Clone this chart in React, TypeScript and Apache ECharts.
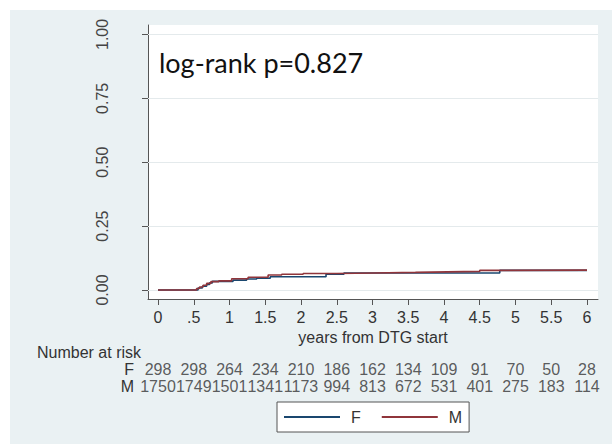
import React, { useEffect, useRef } from "react";
import * as echarts from "echarts";

// ---- data ----
const xTickValues = [0, 0.5, 1, 1.5, 2, 2.5, 3, 3.5, 4, 4.5, 5, 5.5, 6];
const xTickLabels = ["0", ".5", "1", "1.5", "2", "2.5", "3", "3.5", "4", "4.5", "5", "5.5", "6"];
const yTickValues = [0, 0.25, 0.5, 0.75, 1];
const yTickLabels = ["0.00", "0.25", "0.50", "0.75", "1.00"];

const riskGroups = ["F", "M"];
const riskF = [298, 298, 264, 234, 210, 186, 162, 134, 109, 91, 70, 50, 28];
const riskM = [1750, 1749, 1501, 1341, 1173, 994, 813, 672, 531, 401, 275, 183, 114];

// cumulative incidence step points [time, value]
const curveF: [number, number][] = [
  [0, 0], [0.5, 0], [0.56, 0.008], [0.62, 0.015], [0.68, 0.022], [0.72, 0.028],
  [0.76, 0.034], [1.05, 0.039], [1.24, 0.043], [1.38, 0.046], [1.57, 0.052],
  [2.35, 0.062], [2.6, 0.067], [4.78, 0.077], [6, 0.077],
];
const curveM: [number, number][] = [
  [0, 0], [0.5, 0], [0.54, 0.006], [0.58, 0.012], [0.63, 0.019], [0.68, 0.026],
  [0.74, 0.033], [0.85, 0.036], [1.03, 0.044], [1.26, 0.05], [1.54, 0.059],
  [1.73, 0.062], [2.03, 0.065], [2.5, 0.067], [3.03, 0.069], [3.6, 0.071],
  [4.05, 0.073], [4.5, 0.077], [4.8, 0.078], [6, 0.078],
];

const FONT = "'Liberation Sans', Arial, sans-serif";
const colF = "#1a476f";
const colM = "#90353b";

export default function App() {
  const ref = useRef<HTMLDivElement>(null);
  useEffect(() => {
    document.body.style.margin = "0";
    const chart = echarts.init(ref.current!, null, { renderer: "svg" });
    const riskData = (name: string, arr: number[]) =>
      xTickValues.map((t, i) => [t, name, arr[i]]);
    const riskLabel = {
      show: true, position: "inside",
      formatter: (p: any) => String(p.value[2]),
      fontSize: 16, color: "#333", fontFamily: FONT,
    };
    chart.setOption({
      animation: false,
      backgroundColor: "#eaf1f3",
      textStyle: { fontFamily: FONT },
      graphic: [
        { type: "rect", shape: { x: 0, y: 0, width: 612, height: 10 }, style: { fill: "#ffffff" }, z: -10 },
        { type: "rect", shape: { x: 0, y: 0, width: 10, height: 444 }, style: { fill: "#ffffff" }, z: -10 },
        {
          type: "text", x: 159, y: 62, z: 10,
          style: { text: "log-rank p=0.827", font: "27px Lato, 'Open Sans', sans-serif", fill: "#111", verticalAlign: "middle" },
        },
        {
          type: "text", x: 37, y: 352, z: 10,
          style: { text: "Number at risk", font: `16px ${FONT}`, fill: "#333", verticalAlign: "middle" },
        },
      ],
      grid: [
        { left: 148, right: 14, top: 25, bottom: 145, show: true, backgroundColor: "#ffffff", borderWidth: 0 },
        { left: 148, right: 14, top: 360.5, height: 34, show: false },
      ],
      xAxis: [
        {
          type: "value", gridIndex: 0, min: -0.14, max: 6.154,
          axisLine: { show: true, onZero: false, lineStyle: { color: "#555", width: 1 } },
          axisTick: { show: true, customValues: xTickValues, length: 6, lineStyle: { color: "#555" } },
          axisLabel: {
            customValues: xTickValues, margin: 10, fontSize: 16, color: "#333", fontFamily: FONT,
            formatter: (v: number) => xTickLabels[xTickValues.indexOf(v)] ?? String(v),
          },
          splitLine: { show: false },
          name: "years from DTG start", nameLocation: "middle", nameGap: 21,
          nameTextStyle: { fontSize: 16, color: "#333", fontFamily: FONT },
        },
        { type: "value", gridIndex: 1, min: -0.14, max: 6.154, show: false },
      ],
      yAxis: [
        {
          type: "value", gridIndex: 0, min: -0.035, max: 1.037,
          axisLine: { show: true, onZero: false, lineStyle: { color: "#555", width: 1 } },
          axisTick: { show: true, customValues: yTickValues, length: 6, lineStyle: { color: "#555" } },
          axisLabel: {
            customValues: yTickValues, rotate: 90, margin: 38, fontSize: 16, color: "#444", fontFamily: FONT,
            formatter: (v: number) => yTickLabels[yTickValues.indexOf(v)] ?? String(v),
          },
          splitLine: { show: false },
        },
        {
          type: "category", gridIndex: 1, data: riskGroups, inverse: true,
          axisLine: { show: false }, axisTick: { show: false }, splitLine: { show: false },
          axisLabel: { interval: 0, margin: 14, fontSize: 16, color: "#333", fontFamily: FONT },
        },
      ],
      legend: {
        data: ["F", "M"], left: 277, top: 402, orient: "horizontal",
        icon: "rect", itemWidth: 56, itemHeight: 2, itemGap: 21, padding: 7,
        borderColor: "#555", borderWidth: 1, backgroundColor: "#ffffff", borderRadius: 0,
        textStyle: { fontSize: 16, lineHeight: 14, color: "#333", fontFamily: FONT, padding: [0, 0, 0, 6] },
      },
      series: [
        {
          name: "F", type: "line", step: "end", data: curveF, symbol: "none",
          xAxisIndex: 0, yAxisIndex: 0, z: 3,
          lineStyle: { color: colF, width: 1.6 }, itemStyle: { color: colF },
          markLine: {
            silent: true, symbol: ["none", "none"], label: { show: false }, z: 1,
            lineStyle: { color: "#e4eaec", width: 1, type: "solid" },
            data: yTickValues.map((v) => ({ yAxis: v })),
          },
        },
        {
          name: "M", type: "line", step: "end", data: curveM, symbol: "none",
          xAxisIndex: 0, yAxisIndex: 0, z: 4,
          lineStyle: { color: colM, width: 1.6 }, itemStyle: { color: colM },
        },
        {
          type: "scatter", xAxisIndex: 1, yAxisIndex: 1, data: riskData("F", riskF),
          symbolSize: 1, itemStyle: { color: "transparent" }, silent: true, label: riskLabel,
        },
        {
          type: "scatter", xAxisIndex: 1, yAxisIndex: 1, data: riskData("M", riskM),
          symbolSize: 1, itemStyle: { color: "transparent" }, silent: true, label: riskLabel,
        },
      ],
    });
    return () => chart.dispose();
  }, []);
  return <div ref={ref} style={{ width: 612, height: 444 }} />;
}
